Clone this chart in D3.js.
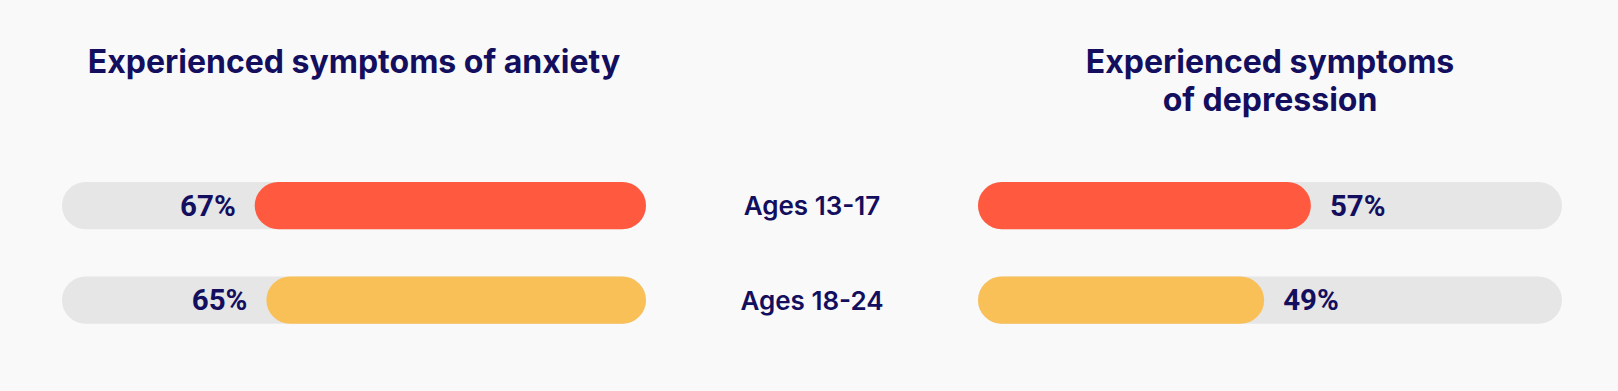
<!DOCTYPE html>
<html>
  <head>
  <title>Anxiety and Depression by Age</title>
  <style>
    body, html {
      margin: 0;
      padding: 0;
      background: #f9f9f9;
    }
    svg { display: block; }
  </style>
  </head>
  <body>
    <svg id="svg" width="1618" height="391"></svg>
  <script src="https://cdn.jsdelivr.net/npm/d3@7"></script>
  <script>
    const ages = ["Ages 13-17", "Ages 18-24"]
    const anxiety = [67, 65]
    const depression = [57, 49]
    const barColors = ["#ff5a3f", "#f9c058"]
    const leftTitle = ["Experienced symptoms of anxiety"]
    const rightTitle = ["Experienced symptoms", "of depression"]

    function renderChart() {
      const navy = "#130f5e"
      const trackLeft = { x0: 62, x1: 646 }
      const trackRight = { x0: 978, x1: 1562 }
      const trackWidth = trackLeft.x1 - trackLeft.x0

      const xScale = d3.scaleLinear().domain([0, 100]).range([0, trackWidth])
      const yScale = d3.scaleBand()
        .domain(ages)
        .range([182, 323.75])
        .paddingInner(0.5)
        .paddingOuter(0)

      const h = yScale.bandwidth()
      const svg = d3.select('#svg')

      const rows = ages.map((a, i) => ({ age: a, anx: anxiety[i], dep: depression[i], color: barColors[i] }))

      // grey tracks (100%)
      ;[trackLeft, trackRight].forEach(t => {
        svg.selectAll(null)
          .data(rows)
          .enter().append("rect")
          .attr("x", t.x0)
          .attr("y", d => yScale(d.age))
          .attr("width", xScale(100))
          .attr("height", h)
          .attr("rx", h / 2)
          .attr("fill", "#e6e6e6")
      })

      // anxiety bars, grow leftwards from the right end
      svg.selectAll(".anx")
        .data(rows)
        .enter().append("rect")
        .attr("class", "anx")
        .attr("x", d => trackLeft.x1 - xScale(d.anx))
        .attr("y", d => yScale(d.age))
        .attr("width", d => xScale(d.anx))
        .attr("height", h)
        .attr("rx", h / 2)
        .attr("fill", d => d.color)

      svg.selectAll(".anx-label")
        .data(rows)
        .enter().append("text")
        .attr("x", d => trackLeft.x1 - xScale(d.anx) - 19)
        .attr("y", d => yScale(d.age) + h / 2 + 10)
        .attr("text-anchor", "end")
        .text(d => d.anx + "%")
        .style("font-family", "Roboto, sans-serif")
        .style("font-weight", "700")
        .style("font-size", "29.5px")
        .attr("fill", navy)

      // depression bars, grow rightwards
      svg.selectAll(".dep")
        .data(rows)
        .enter().append("rect")
        .attr("class", "dep")
        .attr("x", trackRight.x0)
        .attr("y", d => yScale(d.age))
        .attr("width", d => xScale(d.dep))
        .attr("height", h)
        .attr("rx", h / 2)
        .attr("fill", d => d.color)

      svg.selectAll(".dep-label")
        .data(rows)
        .enter().append("text")
        .attr("x", d => trackRight.x0 + xScale(d.dep) + 19)
        .attr("y", d => yScale(d.age) + h / 2 + 10)
        .text(d => d.dep + "%")
        .style("font-family", "Roboto, sans-serif")
        .style("font-weight", "700")
        .style("font-size", "29.5px")
        .attr("fill", navy)

      // age labels in the middle
      svg.selectAll(".age")
        .data(rows)
        .enter().append("text")
        .attr("x", (trackLeft.x1 + trackRight.x0) / 2)
        .attr("y", d => yScale(d.age) + h / 2 + 9.5)
        .attr("text-anchor", "middle")
        .text(d => d.age)
        .style("font-family", "Inter, sans-serif")
        .style("font-weight", "600")
        .style("font-size", "26px")
        .attr("fill", navy)

      // titles
      const titleStyle = sel => sel
        .attr("text-anchor", "middle")
        .style("font-family", "Inter, sans-serif")
        .style("font-weight", "700")
        .style("font-size", "32px")
        .attr("fill", navy)

      svg.selectAll(".ltitle")
        .data(leftTitle)
        .enter().append("text")
        .attr("x", (trackLeft.x0 + trackLeft.x1) / 2)
        .attr("y", (d, i) => 73 + i * 38)
        .text(d => d)
        .call(titleStyle)

      svg.selectAll(".rtitle")
        .data(rightTitle)
        .enter().append("text")
        .attr("x", (trackRight.x0 + trackRight.x1) / 2)
        .attr("y", (d, i) => 73 + i * 38)
        .text(d => d)
        .call(titleStyle)
    }
    renderChart()
  </script>
  </body>
</html>
